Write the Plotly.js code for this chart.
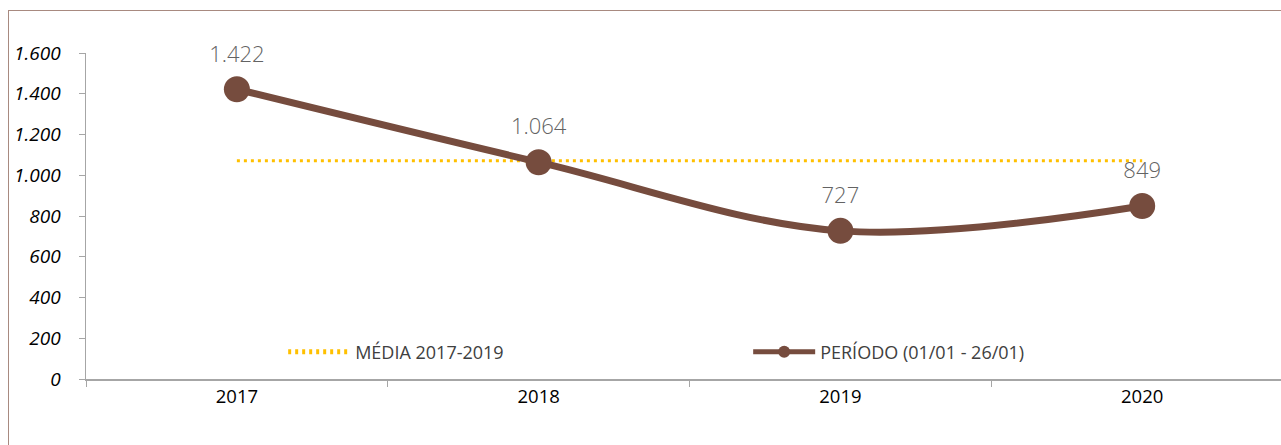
<!DOCTYPE html>
<html>
<head>
<meta charset="utf-8">
<script src="https://cdn.plot.ly/plotly-3.0.1.min.js"></script>
<style>
  html, body { margin: 0; padding: 0; background: #fff; }
  #wrap { position: relative; width: 1281px; height: 445px; overflow: hidden; }
  #frame { position: absolute; left: 8px; top: 10px; width: 1400px; height: 600px; border: 1px solid #A88A80; box-sizing: border-box; }
  #chart { position: absolute; left: 0; top: 0; width: 1281px; height: 445px; }
</style>
</head>
<body>
<div id="wrap">
  <div id="frame"></div>
  <div id="chart"></div>
</div>
<script>
const categories = ["2017", "2018", "2019", "2020"];
const periodo = [1422, 1064, 727, 849];
const media = [1071, 1071, 1071, 1071];
const yTicks = [0, 200, 400, 600, 800, 1000, 1200, 1400, 1600];

const FONT = "'Open Sans', 'Noto Sans', sans-serif";

const traces = [
  {
    type: "scatter", mode: "lines", name: "MÉDIA 2017-2019",
    x: categories, y: media,
    line: { color: "#FFC000", width: 3, dash: "3px,4px" },
    hoverinfo: "skip"
  },
  {
    type: "scatter", mode: "lines+markers", name: "PERÍODO (01/01 - 26/01)",
    x: categories, y: periodo,
    line: { color: "#764C3E", width: 7, shape: "spline", smoothing: 1 },
    marker: { color: "#764C3E", size: 26 }
  },
  {
    type: "scatter", mode: "markers+text", showlegend: false,
    x: categories, y: periodo,
    marker: { color: "rgba(0,0,0,0)", size: 34 },
    texttemplate: "%{y:,.0f}",
    textposition: "top center",
    textfont: { family: FONT, size: 22, color: "#636363", weight: 300 },
    cliponaxis: false, hoverinfo: "skip"
  }
];

const layout = {
  width: 1281, height: 445,
  paper_bgcolor: "rgba(0,0,0,0)", plot_bgcolor: "rgba(0,0,0,0)",
  separators: ",.",
  margin: { l: 86, r: 0, t: 53, b: 66 },
  showlegend: true,
  legend: {
    orientation: "h", x: 0.165, y: 0.083, xanchor: "left", yanchor: "middle",
    font: { family: FONT, size: 18, color: "#404040" },
    itemwidth: 62, itemsizing: "constant",
    entrywidth: 388, bgcolor: "rgba(0,0,0,0)"
  },
  xaxis: {
    type: "category", range: [-0.5, 3.46],
    showline: true, linecolor: "#A6A6A6", linewidth: 1.5,
    ticks: "outside", tickson: "boundaries", ticklen: 6, tickcolor: "#A6A6A6",
    showgrid: false, zeroline: false,
    tickfont: { family: FONT, size: 18.5, color: "#000" },
    fixedrange: true
  },
  yaxis: {
    range: [0, 1600], tickvals: yTicks, tickformat: ",.0f",
    showline: true, linecolor: "#A6A6A6", linewidth: 1.5,
    ticks: "outside", ticklen: 6, tickcolor: "#A6A6A6",
    showgrid: false, zeroline: false, ticklabelstandoff: 14,
    tickfont: { family: FONT, size: 19, color: "#000", style: "italic" },
    fixedrange: true
  }
};

Plotly.newPlot("chart", traces, layout, { displayModeBar: false, staticPlot: true });
</script>
</body>
</html>
